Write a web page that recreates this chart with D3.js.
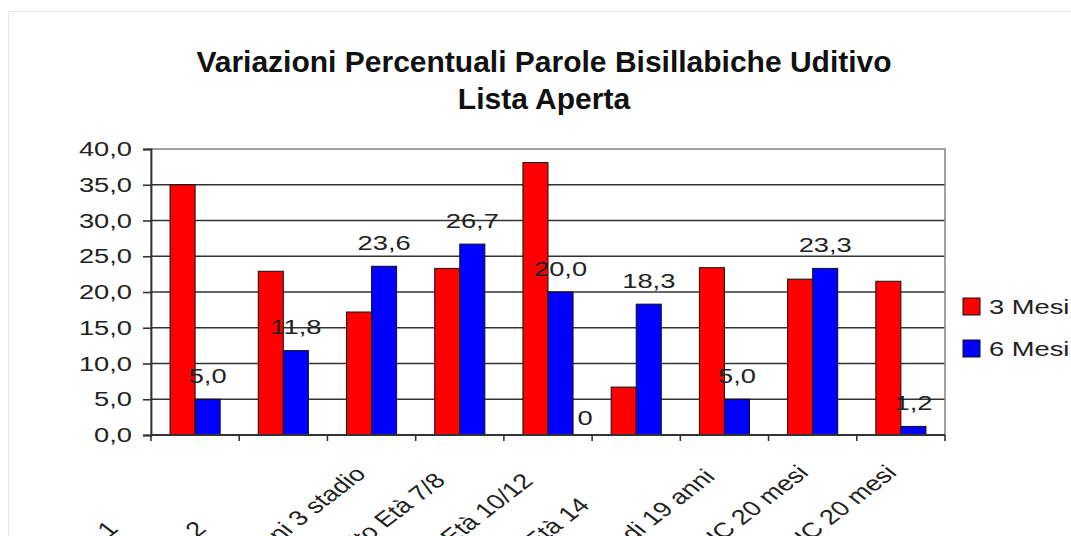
<!DOCTYPE html>
<html>
<head>
<meta charset="utf-8">
<script src="https://cdn.jsdelivr.net/npm/d3@7"></script>
<style>
  body { margin: 0; background: #fff; }
  text { font-family: "Liberation Sans", Arial, sans-serif; }
</style>
</head>
<body>
<div id="container"></div>
<script>
const width = 1071;
const height = 536;

const titleLines = ["Variazioni Percentuali Parole Bisillabiche Uditivo", "Lista Aperta"];
const categories = [
    "Paziente 1",
    "Paziente 2",
    "Paziente 3 - 8 anni 3 stadio",
    "Paziente 4 - udito Età 7/8",
    "Paziente 5 - IC Età 10/12",
    "Paziente 6 Età 14",
    "Paziente 7 - Età di 19 anni",
    "Paziente 8 - uso IC 20 mesi",
    "Paziente 9 - uso IC 20 mesi"
];
const seriesNames = ["3 Mesi", "6 Mesi"];
const mesi3 = [35.0, 22.9, 17.2, 23.3, 38.1, 6.7, 23.4, 21.8, 21.5];
const mesi6 = [5.0, 11.8, 23.6, 26.7, 20.0, 18.3, 5.0, 23.3, 1.2];
const colors = ["#ff0000", "#0000ff"];
const yTicks = [0, 5, 10, 15, 20, 25, 30, 35, 40];
// stray label visible at the right side of the 5th group
const extraLabels = [{ cat: categories[4], text: "0", value: 0 }];

const sx = 1.3; // text in the picture is stretched horizontally
const itFormat = d3.formatLocale({ decimal: ",", thousands: ".", grouping: [3], currency: ["", "€"] }).format(".1f");

const margin = { top: 149, right: 126, bottom: 101, left: 151 };

const svg = d3.select("#container")
    .append("svg")
    .attr("width", width)
    .attr("height", height);

// outer chart frame
svg.append("rect")
    .attr("x", 8.5)
    .attr("y", 11.5)
    .attr("width", 1100)
    .attr("height", 600)
    .attr("fill", "none")
    .attr("stroke", "#e6e6e6");

const title = svg.append("text")
    .attr("text-anchor", "middle")
    .style("font-size", "30px")
    .style("font-weight", "bold")
    .attr("fill", "#111");
titleLines.forEach((t, i) => {
    title.append("tspan")
        .attr("x", 544)
        .attr("y", 72 + i * 37)
        .text(t);
});

const x = d3.scaleBand()
    .domain(categories)
    .range([margin.left, width - margin.right])
    .paddingInner(0)
    .paddingOuter(0);
const xSub = d3.scaleBand()
    .domain(seriesNames)
    .range([0, x.bandwidth()])
    .paddingInner(0)
    .paddingOuter(0.76);
const y = d3.scaleLinear()
    .domain([0, 40])
    .range([height - margin.bottom, margin.top]);

// gridlines
svg.append("g")
    .selectAll("line")
    .data(yTicks.filter((d) => d > 0 && d < 40))
    .enter()
    .append("line")
    .attr("x1", margin.left)
    .attr("x2", width - margin.right)
    .attr("y1", (d) => y(d))
    .attr("y2", (d) => y(d))
    .attr("stroke", "#333")
    .attr("stroke-width", 1.6);

// plot border
svg.append("rect")
    .attr("x", margin.left)
    .attr("y", y(40))
    .attr("width", width - margin.right - margin.left)
    .attr("height", y(0) - y(40))
    .attr("fill", "none")
    .attr("stroke", "#8a8a8a")
    .attr("stroke-width", 1.6);

// bars
const data = categories.map((c, i) => ({ cat: c, values: [mesi3[i], mesi6[i]] }));
const groups = svg.append("g")
    .selectAll("g")
    .data(data)
    .enter()
    .append("g")
    .attr("transform", (d) => `translate(${x(d.cat)},0)`);
groups.selectAll("rect")
    .data((d) => d.values.map((v, si) => ({ s: seriesNames[si], v: v, si: si })))
    .enter()
    .append("rect")
    .attr("x", (d) => xSub(d.s))
    .attr("width", xSub.bandwidth())
    .attr("y", (d) => y(d.v))
    .attr("height", (d) => y(0) - y(d.v))
    .attr("fill", (d) => colors[d.si])
    .attr("stroke", "#111")
    .attr("stroke-width", 1);

// y axis
const yAxis = svg.append("g")
    .attr("transform", `translate(${margin.left},0)`)
    .call(d3.axisLeft(y).tickValues(yTicks).tickSize(8).tickPadding(11).tickFormat(itFormat));
yAxis.select(".domain").attr("stroke", "#333").attr("stroke-width", 1.8);
yAxis.selectAll(".tick line").attr("stroke", "#333").attr("stroke-width", 1.6);
yAxis.selectAll(".tick text")
    .style("font-size", "21px")
    .attr("fill", "#222")
    .attr("transform", `scale(${sx},1)`)
    .attr("x", -19 / sx);

// x axis line and ticks at band boundaries
const xAxisG = svg.append("g");
xAxisG.append("line")
    .attr("x1", margin.left)
    .attr("x2", width - margin.right)
    .attr("y1", y(0))
    .attr("y2", y(0))
    .attr("stroke", "#333")
    .attr("stroke-width", 1.8);
xAxisG.selectAll(".xt")
    .data(categories.concat(["end"]))
    .enter()
    .append("line")
    .attr("x1", (d, i) => (i < categories.length ? x(d) : x(categories[i - 1]) + x.bandwidth()))
    .attr("x2", (d, i) => (i < categories.length ? x(d) : x(categories[i - 1]) + x.bandwidth()))
    .attr("y1", y(0))
    .attr("y2", y(0) + 6)
    .attr("stroke", "#333")
    .attr("stroke-width", 1.6);

// category labels, rotated and centred
xAxisG.selectAll(".xl")
    .data(categories)
    .enter()
    .append("text")
    .attr("transform", (d) => `translate(${x(d) + x.bandwidth() / 2},${y(0)}) scale(${sx},1) rotate(-45)`)
    .attr("x", -158)
    .attr("y", 26)
    .attr("text-anchor", "middle")
    .style("font-size", "21px")
    .attr("fill", "#222")
    .text((d) => d);

// value labels on the 6 Mesi series
svg.append("g")
    .selectAll("text")
    .data(data)
    .enter()
    .append("text")
    .attr("transform", (d) => `translate(${x(d.cat) + xSub(seriesNames[1]) + xSub.bandwidth() / 2},${y(d.values[1]) - 16.5}) scale(${sx},1)`)
    .attr("text-anchor", "middle")
    .style("font-size", "21px")
    .attr("fill", "#222")
    .text((d) => itFormat(d.values[1]));

svg.append("g")
    .selectAll("text")
    .data(extraLabels)
    .enter()
    .append("text")
    .attr("transform", (d) => `translate(${x(d.cat) + x.bandwidth() - 7},${y(d.value) - 10}) scale(${sx},1)`)
    .attr("text-anchor", "middle")
    .style("font-size", "21px")
    .attr("fill", "#222")
    .text((d) => d.text);

// legend
const legend = svg.append("g")
    .selectAll("g")
    .data(seriesNames)
    .enter()
    .append("g")
    .attr("transform", (d, i) => `translate(963,${298 + i * 42})`);
legend.append("rect")
    .attr("width", 17)
    .attr("height", 17)
    .attr("fill", (d, i) => colors[i])
    .attr("stroke", "#111")
    .attr("stroke-width", 1);
legend.append("text")
    .attr("transform", `translate(26,16) scale(${sx},1)`)
    .style("font-size", "21px")
    .attr("fill", "#222")
    .text((d) => d);
</script>
</body>
</html>
